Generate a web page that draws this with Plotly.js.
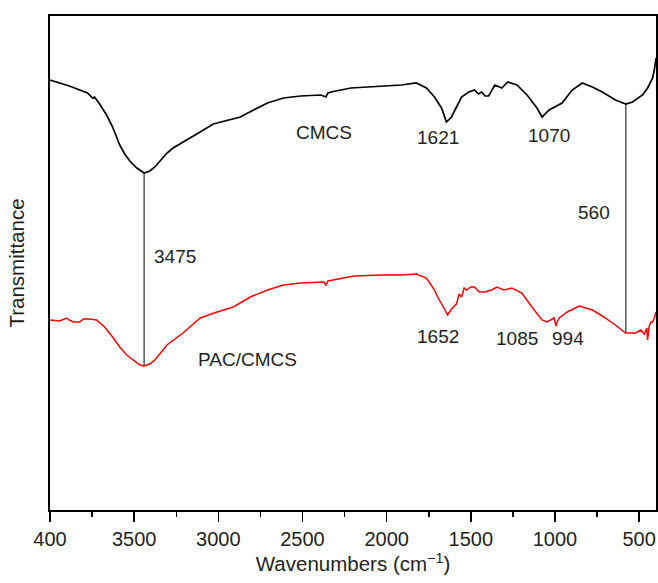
<!DOCTYPE html>
<html>
<head>
<meta charset="utf-8">
<script src="https://cdn.plot.ly/plotly-3.0.1.min.js"></script>
<style>html,body{margin:0;padding:0;background:#fff;}#chart{width:658px;height:583px;}</style>
</head>
<body>
<div id="chart"></div>
<script>
// CMCS spectrum (wavenumber cm-1, transmittance a.u.)
const cmcsWn = [4000,3885,3777,3760,3747,3735,3705,3664,3628,3586,3556,3526,3484,3441,3407,3377,3305,3269,3186,3108,3030,2928,2869,2791,2708,2613,2511,2391,2361,2349,2331,2212,2033,1913,1824,1764,1716,1674,1645,1615,1585,1555,1513,1478,1455,1436,1415,1394,1358,1316,1280,1226,1166,1107,1077,1035,958,898,838,778,719,641,579,539,480,450,435,420,410,400];
const cmcsT  = [430,424,417,414,412,413,406,395,383,365,356,349,342,337,339,343,357,362,370,378,386,390,393,400,407,412,414,415,413,417,418,422,424,425,427,422,413,402,388,393,403,413,418,420,416,418,414,414,425,422,428,425,415,402,393,400,407,420,427,423,418,410,406,408,415,422,427,432,440,452];

// PAC/CMCS spectrum
const pacWn = [4000,3944,3900,3885,3860,3825,3800,3765,3723,3676,3628,3586,3544,3508,3466,3441,3407,3377,3305,3210,3108,3007,2911,2810,2708,2613,2511,2374,2361,2349,2193,2033,1913,1824,1764,1740,1716,1700,1674,1660,1638,1615,1585,1570,1555,1540,1525,1500,1478,1450,1418,1376,1346,1304,1256,1197,1137,1077,1047,1005,994,987,975,927,856,778,719,641,581,521,490,470,455,450,440,430,420,410,400];
const pacT   = [190,189,192,190,188,188,191,191,190,183,173,163,155,150,145,144,146,150,165,177,192,198,203,213,220,225,227,228,225,229,234,235,235,236,232,226,220,214,207,202,195,201,206,216,213,222,220,223,223,218,218,220,223,220,222,217,203,190,188,192,184,188,192,198,204,200,194,185,177,177,180,176,182,170,184,188,188,192,198];

// peak guide lines (wavenumber, top value, bottom value)
const guideWn  = [3441, 579];
const guideTop = [337, 406];
const guideBot = [144, 177];

// labels
const labelText = ["CMCS","1621","1070","3475","560","PAC/CMCS","1652","1085","994"];
const labelWn   = [2373,1698,1035,3257,766,2827,1698,1226,922];
const labelT    = [378,373,375,254,298,151,174,172,172];

// axis ticks
const tickVals  = [4000,3500,3000,2500,2000,1500,1000,500];
const tickText  = ["400","3500","3000","2500","2000","1500","1000","500"];
const minorVals = [3750,3250,2750,2250,1750,1250,750];

const font = "Liberation Sans, Arial, Helvetica, sans-serif";
const txtColor = "#231f20";

const traces = [];
for (let i = 0; i < guideWn.length; i++) {
  traces.push({x:[guideWn[i],guideWn[i]], y:[guideTop[i],guideBot[i]], mode:"lines",
    line:{color:"#000",width:1}, hoverinfo:"skip", showlegend:false});
}
traces.push({x:cmcsWn, y:cmcsT, mode:"lines", line:{color:"#000",width:1.7}, name:"CMCS", showlegend:false});
traces.push({x:pacWn, y:pacT, mode:"lines", line:{color:"#ff0000",width:1.5}, name:"PAC/CMCS", showlegend:false});

const annotations = labelText.map((t,i)=>({x:labelWn[i], y:labelT[i], xref:"x", yref:"y", text:t,
  showarrow:false, font:{family:font,size:19,color:txtColor}, xanchor:"center", yanchor:"middle"}));

const layout = {
  width:658, height:583,
  margin:{l:50,r:2,t:16,b:73},
  paper_bgcolor:"#fff", plot_bgcolor:"#fff",
  showlegend:false,
  font:{family:font,color:txtColor},
  xaxis:{range:[4000,400], tickmode:"array", tickvals:tickVals, ticktext:tickText,
    ticks:"outside", ticklen:10, tickwidth:1.5, tickcolor:"#000",
    minor:{tickmode:"array", tickvals:minorVals, ticks:"outside", ticklen:5, tickwidth:1.5, tickcolor:"#000"},
    showline:true, linecolor:"#000", linewidth:1.8, mirror:true, showgrid:false, zeroline:false,
    tickfont:{family:font,size:20,color:txtColor},
    title:{text:"Wavenumbers (cm<sup>−1</sup>)", font:{family:font,size:20.5,color:txtColor}, standoff:6}},
  yaxis:{range:[0,494], showticklabels:false, ticks:"", showline:true, linecolor:"#000", linewidth:1.8,
    mirror:true, showgrid:false, zeroline:false,
    title:{text:"Transmittance", font:{family:font,size:20.5,color:txtColor}, standoff:18}},
  annotations:annotations
};
Plotly.newPlot("chart", traces, layout, {displayModeBar:false, staticPlot:true});
</script>
</body>
</html>
